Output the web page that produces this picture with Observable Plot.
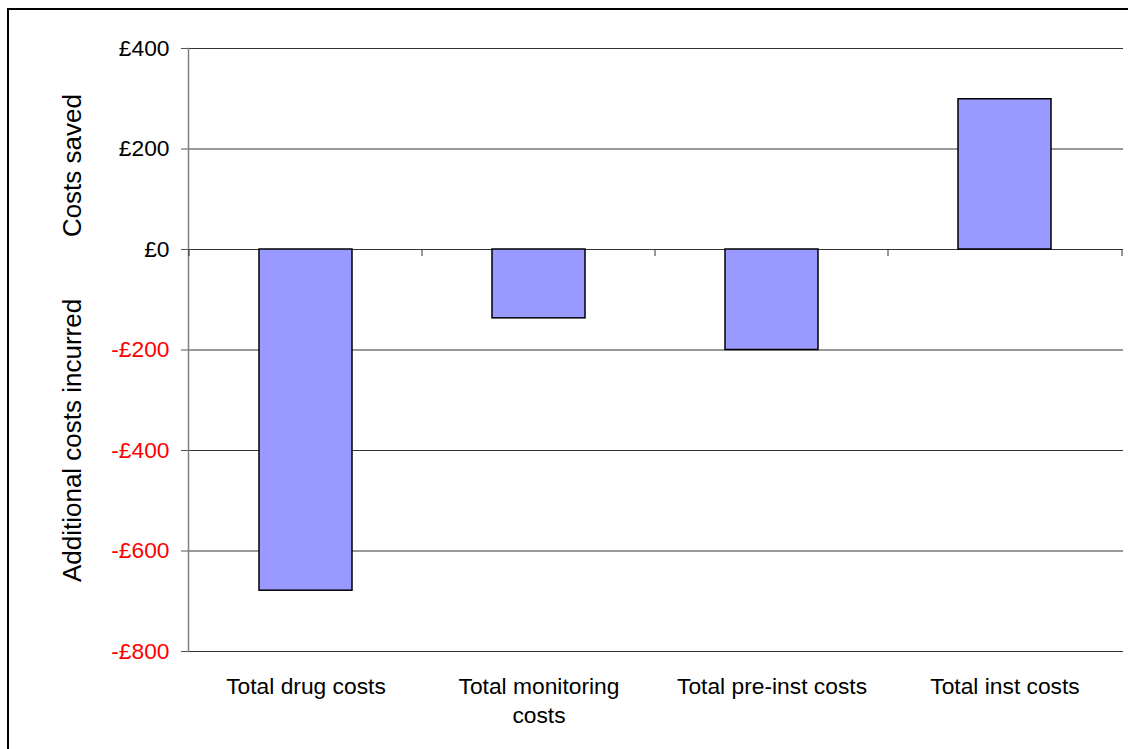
<!DOCTYPE html>
<html><head><meta charset="utf-8">
<script src="https://cdn.jsdelivr.net/npm/d3@7"></script>
<script src="https://cdn.jsdelivr.net/npm/@observablehq/plot@0.6"></script>
<style>body{margin:0;background:#fff} svg{display:block}</style>
</head><body><div id="chart"></div>
<script>
const categories = ["Total drug costs","Total monitoring costs","Total pre-inst costs","Total inst costs"];
const categoryLabels = ["Total drug costs","Total monitoring\ncosts","Total pre-inst costs","Total inst costs"];
const values = [-679,-137,-200,299];
const yTicks = [-800,-600,-400,-200,0,200,400];
const yTitles = ["Costs saved","Additional costs incurred"];
const yTitleAt = [167,-380];

const data = categories.map((c,i)=>({category:c, label:categoryLabels[i], value:values[i]}));
const titles = yTitles.map((t,i)=>({text:t, y:yTitleAt[i]}));
const font = "'Liberation Sans', Arial, sans-serif";
const fmt = v => (v<0?"-£":"£")+Math.abs(v);

const plot = Plot.plot({
  width:1128, height:749,
  marginLeft:188, marginRight:5, marginTop:48, marginBottom:98,
  style:{fontFamily:font, fontSize:"22.8px", background:"#fff", color:"#000", overflow:"visible"},
  x:{domain:categories, paddingInner:0.6, paddingOuter:0.3, axis:null, label:null},
  y:{domain:[-800,400], axis:null, label:null},
  marks:[
    Plot.gridY(yTicks,{stroke:"#333", strokeOpacity:1, strokeWidth:1}),
    Plot.frame({anchor:"left", stroke:"#808080", strokeWidth:1.5}),
    Plot.axisY(yTicks,{tickSize:7, tickFormat:()=>"", stroke:"#555", strokeOpacity:1, label:null}),
    Plot.ruleX(data,{x:"category", y1:0, y2:0, dx:-117, insetBottom:-7, stroke:"#333"}),
    Plot.ruleX([data[data.length-1]],{x:"category", y1:0, y2:0, dx:117, insetBottom:-7, stroke:"#333"}),
    Plot.barY(data,{x:"category", y:"value", fill:"#9999ff", stroke:"#000", strokeWidth:1.5}),
    Plot.text(yTicks,{y:d=>d, text:fmt, frameAnchor:"left", textAnchor:"end", dx:-19,
      fill:d=>d<0?"#ff0000":"#000"}),
    Plot.text(data,{x:"category", text:"label", frameAnchor:"bottom", lineAnchor:"top", dy:22, lineHeight:1.28, fill:"#000"}),
    Plot.text(titles,{y:"y", text:"text", frameAnchor:"left", textAnchor:"middle", rotate:-90, dx:-116, fill:"#000", fontSize:26})
  ]
});
document.getElementById("chart").appendChild(plot);
d3.select(plot).append("rect").attr("x",8).attr("y",9).attr("width",1300).attr("height",900)
  .attr("fill","none").attr("stroke","#000").attr("stroke-width",2);
</script></body></html>
